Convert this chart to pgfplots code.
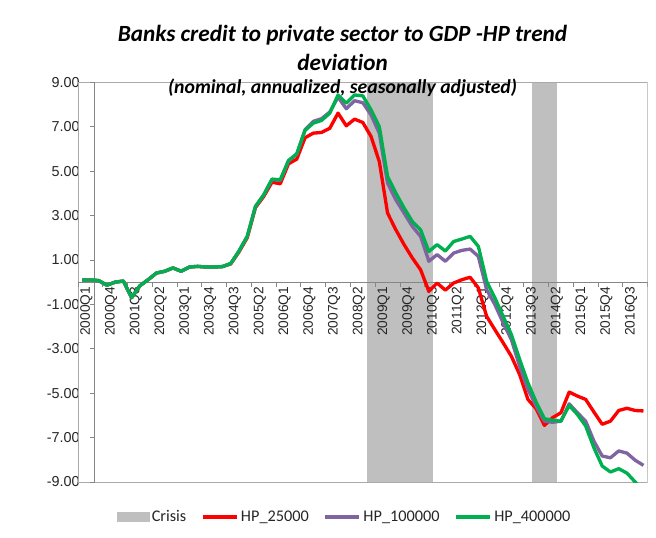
\documentclass[border=0pt]{standalone}
\usepackage{pgfplots}
\pgfplotsset{compat=1.18}
\usepackage{pgfplotstable}
\usepackage{fontspec}
\setmainfont{Carlito}[Ligatures=NoCommon]
\newfontfamily\arialf{Liberation Sans}
\definecolor{hpred}{HTML}{FF0000}
\definecolor{hppurple}{HTML}{8064A2}
\definecolor{hpgreen}{HTML}{00B050}
\definecolor{crisisgray}{HTML}{BFBFBF}
\definecolor{axgray}{HTML}{868686}
\pgfplotsset{
  lineleg/.style={legend image code/.code={\draw[##1] (0pt,0pt) -- (25.5pt,0pt);}},
  crisisleg/.style={legend image code/.code={\fill[crisisgray] (0pt,-3.2pt) rectangle (23.5pt,3.2pt);}},
  geom/.style={at={(58.5pt,41.25pt)}, anchor=south west, scale only axis,
    width=427.2pt, height=299.8pt, xmin=-0.5, xmax=68.5, ymin=-9, ymax=9},
}

\pgfplotstableread{
i G P R
0 0.10 0.10 0.10
1 0.10 0.10 0.10
2 0.07 0.07 0.07
3 -0.14 -0.14 -0.14
4 0.00 0.00 0.00
5 0.05 0.05 0.05
6 -0.70 -0.70 -0.70
7 -0.16 -0.16 -0.16
8 0.11 0.11 0.11
9 0.41 0.41 0.41
10 0.49 0.49 0.49
11 0.64 0.64 0.64
12 0.49 0.49 0.49
13 0.68 0.68 0.68
14 0.71 0.71 0.71
15 0.68 0.68 0.68
16 0.68 0.68 0.68
17 0.70 0.70 0.70
18 0.84 0.84 0.82
19 1.40 1.40 1.36
20 2.06 2.06 2.00
21 3.41 3.41 3.36
22 3.93 3.93 3.86
23 4.64 4.62 4.50
24 4.61 4.58 4.43
25 5.48 5.45 5.33
26 5.78 5.76 5.54
27 6.83 6.86 6.50
28 7.16 7.24 6.71
29 7.28 7.36 6.74
30 7.61 7.66 6.93
31 8.43 8.33 7.61
32 8.06 7.81 7.04
33 8.43 8.17 7.34
34 8.39 8.08 7.19
35 7.76 7.53 6.56
36 7.00 6.71 5.43
37 4.76 4.46 3.11
38 4.01 3.71 2.36
39 3.34 3.11 1.69
40 2.73 2.51 1.09
41 2.36 2.06 0.56
42 1.38 0.94 -0.41
43 1.69 1.24 -0.04
44 1.40 0.94 -0.36
45 1.83 1.31 -0.04
46 1.94 1.43 0.11
47 2.06 1.49 0.22
48 1.61 1.16 -0.26
49 0.04 -0.34 -1.54
50 -0.71 -1.01 -2.14
51 -1.54 -1.83 -2.73
52 -2.36 -2.59 -3.34
53 -3.48 -3.79 -4.16
54 -4.53 -4.83 -5.28
55 -5.40 -5.58 -5.70
56 -6.15 -6.26 -6.45
57 -6.22 -6.31 -6.10
58 -6.26 -6.26 -5.88
59 -5.55 -5.48 -4.95
60 -5.96 -5.88 -5.13
61 -6.48 -6.26 -5.28
62 -7.46 -7.16 -5.85
63 -8.28 -7.83 -6.40
64 -8.55 -7.91 -6.26
65 -8.40 -7.60 -5.78
66 -8.60 -7.70 -5.68
67 -9.00 -8.02 -5.78
68 -9.40 -8.25 -5.80
}\datatab

\begin{document}
\begin{tikzpicture}[x=1pt,y=1pt]
\useasboundingbox (0,0) rectangle (492,402.75);
\node[font=\fontsize{17.4}{20}\selectfont\bfseries\itshape] at (256.9,376.5) {Banks credit to private sector to GDP -HP trend};
\node[font=\fontsize{17.4}{20}\selectfont\bfseries\itshape] at (256.9,356) {deviation};
% crisis shading underneath
\begin{axis}[geom, hide axis]
\addplot[fill=crisisgray, draw=none]
  coordinates {(34.5,-9) (34.5,9) (42.5,9) (42.5,-9)} -- cycle;
\addplot[fill=crisisgray, draw=none]
  coordinates {(54.5,-9) (54.5,9) (57.5,9) (57.5,-9)} -- cycle;
\end{axis}
\begin{axis}[
  geom,
  axis x line=middle, axis y line=left,
  axis line style={draw=none}, tick style={draw=none}, major tick length=0pt,
  xtick={0,3,...,66},
  xticklabels={2000Q1,2000Q4,2001Q3,2002Q2,2003Q1,2003Q4,2004Q3,2005Q2,2006Q1,2006Q4,2007Q3,2008Q2,2009Q1,2009Q4,2010Q3,2011Q2,2012Q1,2012Q4,2013Q3,2014Q2,2015Q1,2015Q4,2016Q3},
  ytick={-9,-7,...,9},
  yticklabels={-9.00,-7.00,-5.00,-3.00,-1.00,1.00,3.00,5.00,7.00,9.00},
  ticklabel style={text=black!85},
  xticklabel style={font=\arialf\fontsize{10.3}{12}\selectfont, rotate=90, anchor=east, yshift=-3.2pt},
  yticklabel style={font=\arialf\fontsize{10.8}{12}\selectfont, anchor=east, xshift=4.8pt},
  legend style={at={(0.469,-0.0876)}, anchor=center, draw=none, fill=none,
    legend columns=4, font=\fontsize{12.2}{14}\selectfont, text=black!85,
    /tikz/every even column/.append style={column sep=9pt}},
  legend cell align=left,
]
\addlegendimage{crisisleg}
\addlegendentry{Crisis}
\draw[axgray!70, line width=0.6pt] (axis cs:-0.5,9) -- (axis cs:68.5,9) -- (axis cs:68.5,-9) -- (axis cs:-0.5,-9) -- cycle;
\draw[axgray, line width=0.6pt] (axis cs:-0.5,0) -- (axis cs:68.5,0);
\draw[axgray, line width=0.6pt] (axis cs:1.5,-9) -- (axis cs:1.5,9);
\pgfplotsinvokeforeach{-9,-7,-5,-3,-1,1,3,5,7,9}{
  \draw[axgray, line width=0.6pt] (axis cs:1.5,#1) -- ++(-3.75pt,0pt);
}
\pgfplotsinvokeforeach{-0.5,2.5,5.5,8.5,11.5,14.5,17.5,20.5,23.5,26.5,29.5,32.5,35.5,38.5,41.5,44.5,47.5,50.5,53.5,56.5,59.5,62.5,65.5,68.5}{
  \draw[axgray, line width=0.6pt] (axis cs:#1,0) -- ++(0pt,-3.75pt);
}
\addplot[hpred, line width=2.5pt, line join=round, lineleg]
  table[x=i, y=R] {\datatab};
\addlegendentry{HP\_25000}
\addplot[hppurple, line width=2.5pt, line join=round, lineleg]
  table[x=i, y=P] {\datatab};
\addlegendentry{HP\_100000}
\addplot[hpgreen, line width=2.5pt, line join=round, lineleg]
  table[x=i, y=G] {\datatab};
\addlegendentry{HP\_400000}
\end{axis}
\node[font=\fontsize{14.8}{17}\selectfont\bfseries\itshape] at (256.9,336.75) {(nominal, annualized, seasonally adjusted)};
\end{tikzpicture}
\end{document}
